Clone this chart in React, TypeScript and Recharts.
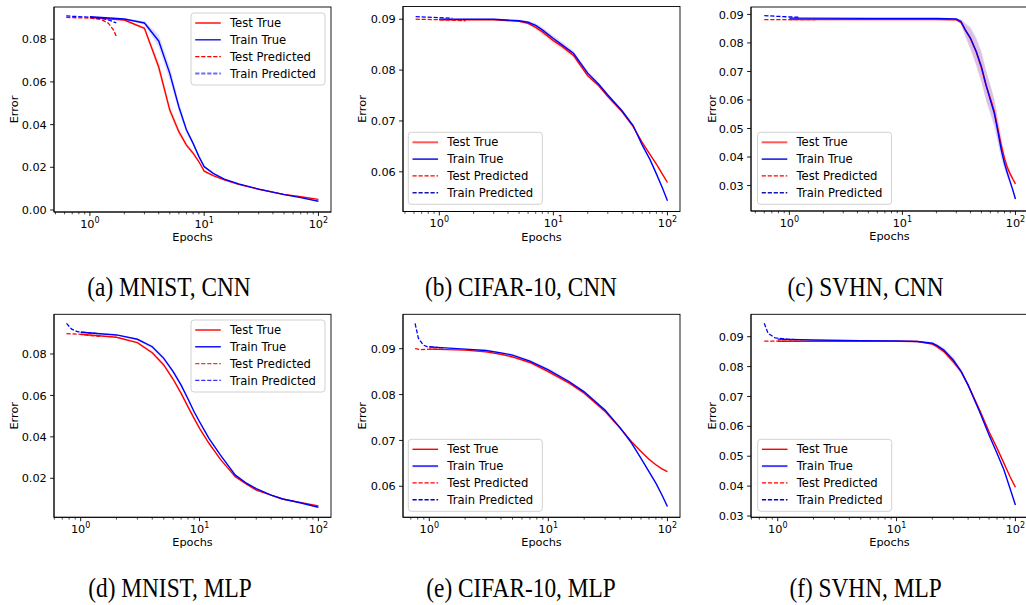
import React from "react";
import { ComposedChart, Line, Area, XAxis, YAxis } from "recharts";

const FONT = "DejaVu Sans";
const SERIF = "Liberation Serif";

// ---------------- (a) MNIST, CNN ----------------
const aEpochs = [1, 2, 3, 4, 5, 6, 7, 8, 9, 10, 12, 15, 20, 30, 50, 70, 100];
const aTestTrue = [0.0902, 0.089, 0.0851, 0.067, 0.0468, 0.0367, 0.0304, 0.0266, 0.0226, 0.0182, 0.0161, 0.0141, 0.012, 0.0097, 0.0073, 0.0062, 0.005];
const aTrainTrue = [0.0905, 0.0895, 0.0876, 0.0792, 0.064, 0.0484, 0.0375, 0.0312, 0.025, 0.0203, 0.0172, 0.0145, 0.0122, 0.0098, 0.0072, 0.0058, 0.0041];
const aTestSpread = [0.0002, 0.0003, 0.0008, 0.0025, 0.0022, 0.0015, 0.001, 0.0008, 0.0006, 0.0005, 0.0004, 0.0003, 0.0003, 0.0002, 0.0002, 0.0002, 0.0002];
const aTrainSpread = [0.0002, 0.0003, 0.0008, 0.003, 0.0032, 0.0022, 0.0014, 0.001, 0.0007, 0.0005, 0.0004, 0.0003, 0.0003, 0.0002, 0.0002, 0.0002, 0.0002];
const aTestPredEpochs = [0.62, 1.0, 1.25, 1.45, 1.6, 1.7];
const aTestPred = [0.0902, 0.0899, 0.0893, 0.0875, 0.0845, 0.0815];
const aTrainPredEpochs = [0.62, 1.0, 1.3, 1.5, 1.7];
const aTrainPred = [0.0909, 0.0903, 0.0897, 0.0888, 0.0877];
const aYTicks = [0, 0.02, 0.04, 0.06, 0.08];

// ---------------- (b) CIFAR-10, CNN ----------------
const bEpochs = [1, 3, 5, 6, 7, 8, 10, 12, 15, 20, 25, 30, 40, 50, 60, 70, 80, 90, 100];
const bTestTrue = [0.0899, 0.0899, 0.0896, 0.0892, 0.0884, 0.0875, 0.0858, 0.0846, 0.0829, 0.0789, 0.0769, 0.0748, 0.0718, 0.0689, 0.0658, 0.0635, 0.0615, 0.0596, 0.0579];
const bTrainTrue = [0.09, 0.09, 0.0897, 0.0894, 0.0888, 0.0879, 0.0862, 0.0849, 0.0833, 0.0794, 0.0772, 0.0751, 0.072, 0.0691, 0.0653, 0.0625, 0.0596, 0.0569, 0.0543];
const bTestSpread = [0.0001, 0.0001, 0.0002, 0.0003, 0.0004, 0.0005, 0.0006, 0.0006, 0.0005, 0.0004, 0.0003, 0.0003, 0.0002, 0.0002, 0.0002, 0.0002, 0.0002, 0.0002, 0.0002];
const bTrainSpread = [0.0001, 0.0001, 0.0002, 0.0003, 0.0004, 0.0005, 0.0006, 0.0006, 0.0005, 0.0004, 0.0003, 0.0003, 0.0002, 0.0002, 0.0002, 0.0002, 0.0002, 0.0002, 0.0002];
const bTestPredEpochs = [0.62, 1.0, 1.7];
const bTestPred = [0.09, 0.0899, 0.0897];
const bTrainPredEpochs = [0.62, 1.0, 1.3];
const bTrainPred = [0.0905, 0.0903, 0.0902];
const bYTicks = [0.06, 0.07, 0.08, 0.09];

// ---------------- (c) SVHN, CNN ----------------
const cEpochs = [1, 5, 10, 20, 30, 33, 36, 40, 45, 50, 55, 60, 65, 70, 75, 80, 85, 90, 95, 100];
const cTestTrue = [0.0882, 0.0882, 0.0882, 0.0882, 0.0881, 0.0872, 0.0846, 0.0815, 0.0768, 0.0712, 0.065, 0.0605, 0.056, 0.0498, 0.044, 0.0395, 0.0362, 0.034, 0.0322, 0.0306];
const cTrainTrue = [0.0887, 0.0886, 0.0886, 0.0886, 0.0884, 0.0875, 0.0846, 0.0817, 0.077, 0.0717, 0.0652, 0.06, 0.0553, 0.0488, 0.0424, 0.0377, 0.0342, 0.0312, 0.0283, 0.0253];
const cTestSpread = [0.0001, 0.0001, 0.0001, 0.0001, 0.0002, 0.0008, 0.002, 0.0035, 0.0045, 0.005, 0.005, 0.0048, 0.0045, 0.004, 0.003, 0.002, 0.0015, 0.001, 0.0008, 0.0006];
const cTrainSpread = [0.0001, 0.0001, 0.0001, 0.0001, 0.0002, 0.001, 0.0025, 0.004, 0.005, 0.0055, 0.0055, 0.0052, 0.0048, 0.0042, 0.0032, 0.0022, 0.0016, 0.0012, 0.001, 0.0008];
const cTestPredEpochs = [0.6, 1.0, 1.7];
const cTestPred = [0.0882, 0.0882, 0.0882];
const cTrainPredEpochs = [0.6, 0.8, 1.2];
const cTrainPred = [0.0896, 0.0893, 0.089];
const cYTicks = [0.03, 0.04, 0.05, 0.06, 0.07, 0.08, 0.09];

// ---------------- (d) MNIST, MLP ----------------
const dEpochs = [1, 2, 3, 4, 5, 6, 7, 8, 9, 10, 12, 15, 20, 25, 30, 40, 50, 70, 100];
const dTestTrue = [0.0895, 0.0881, 0.0855, 0.0806, 0.0747, 0.0678, 0.061, 0.0545, 0.0489, 0.0441, 0.0369, 0.0291, 0.0207, 0.0171, 0.0143, 0.0119, 0.01, 0.0084, 0.0067];
const dTrainTrue = [0.0905, 0.0892, 0.0871, 0.0835, 0.0779, 0.0715, 0.065, 0.0583, 0.0521, 0.0473, 0.0393, 0.0312, 0.0215, 0.0175, 0.015, 0.0119, 0.01, 0.0082, 0.006];
const dTestSpread = [0.0002, 0.0003, 0.0005, 0.0008, 0.001, 0.001, 0.001, 0.0009, 0.0008, 0.0007, 0.0006, 0.0005, 0.0004, 0.0003, 0.0003, 0.0002, 0.0002, 0.0002, 0.0002];
const dTrainSpread = [0.0002, 0.0003, 0.0005, 0.0008, 0.001, 0.001, 0.001, 0.0009, 0.0008, 0.0007, 0.0006, 0.0005, 0.0004, 0.0003, 0.0003, 0.0002, 0.0002, 0.0002, 0.0002];
const dTestPredEpochs = [0.76, 1.0, 1.2, 1.45];
const dTestPred = [0.0898, 0.0895, 0.0889, 0.0885];
const dTrainPredEpochs = [0.76, 0.84, 0.95, 1.2, 1.45];
const dTrainPred = [0.0948, 0.092, 0.0907, 0.0902, 0.0897];
const dYTicks = [0.02, 0.04, 0.06, 0.08];

// ---------------- (e) CIFAR-10, MLP ----------------
const eEpochs = [1, 2, 3, 4, 5, 7, 10, 15, 20, 30, 40, 50, 60, 70, 80, 90, 100];
const eTestTrue = [0.0899, 0.0897, 0.0893, 0.0888, 0.0882, 0.087, 0.085, 0.0825, 0.0803, 0.0763, 0.0727, 0.0697, 0.0676, 0.0659, 0.0647, 0.0638, 0.0632];
const eTrainTrue = [0.0904, 0.0899, 0.0896, 0.0891, 0.0886, 0.0873, 0.0854, 0.0828, 0.0806, 0.0766, 0.0728, 0.0694, 0.0661, 0.0632, 0.0607, 0.0581, 0.0556];
const eTestSpread = [0.0001, 0.0001, 0.0002, 0.0002, 0.0003, 0.0003, 0.0004, 0.0004, 0.0003, 0.0003, 0.0002, 0.0002, 0.0002, 0.0002, 0.0002, 0.0002, 0.0002];
const eTrainSpread = [0.0001, 0.0001, 0.0002, 0.0002, 0.0003, 0.0003, 0.0004, 0.0004, 0.0003, 0.0003, 0.0002, 0.0002, 0.0002, 0.0002, 0.0002, 0.0002, 0.0002];
const eTestPredEpochs = [0.76, 0.85, 1.0, 1.3];
const eTestPred = [0.09, 0.0898, 0.0899, 0.0899];
const eTrainPredEpochs = [0.76, 0.81, 0.89, 0.97, 1.3];
const eTrainPred = [0.0955, 0.0923, 0.0908, 0.0904, 0.0902];
const eYTicks = [0.06, 0.07, 0.08, 0.09];

// ---------------- (f) SVHN, MLP ----------------
const fEpochs = [1, 2, 5, 10, 15, 20, 22, 25, 30, 35, 40, 50, 60, 70, 80, 90, 100];
const fTestTrue = [0.0885, 0.0885, 0.0885, 0.0885, 0.0884, 0.0875, 0.0866, 0.085, 0.0816, 0.0783, 0.0738, 0.0655, 0.0582, 0.0527, 0.0477, 0.0432, 0.0396];
const fTrainTrue = [0.0892, 0.0889, 0.0887, 0.0886, 0.0884, 0.0878, 0.087, 0.0855, 0.0822, 0.0783, 0.0738, 0.0649, 0.0571, 0.051, 0.0455, 0.0393, 0.0337];
const fTestSpread = [0.0001, 0.0001, 0.0001, 0.0001, 0.0002, 0.0004, 0.0006, 0.0008, 0.0009, 0.0008, 0.0006, 0.0005, 0.0004, 0.0004, 0.0003, 0.0003, 0.0003];
const fTrainSpread = [0.0001, 0.0001, 0.0001, 0.0001, 0.0002, 0.0004, 0.0006, 0.0008, 0.0009, 0.0008, 0.0006, 0.0005, 0.0004, 0.0004, 0.0003, 0.0003, 0.0003];
const fTestPredEpochs = [0.77, 1.0, 1.6];
const fTestPred = [0.0885, 0.0885, 0.0885];
const fTrainPredEpochs = [0.77, 0.83, 0.95, 1.2, 1.4];
const fTrainPred = [0.0945, 0.0911, 0.0896, 0.0892, 0.089];
const fYTicks = [0.03, 0.04, 0.05, 0.06, 0.07, 0.08, 0.09];

// ---------------- shared labels / ticks ----------------
const xTickValues = [0.5, 0.6, 0.7, 0.8, 0.9, 1, 2, 3, 4, 5, 6, 7, 8, 9, 10, 20, 30, 40, 50, 60, 70, 80, 90, 100];
const legendLabels = ["Test True", "Train True", "Test Predicted", "Train Predicted"];
const captions = ["(a) MNIST, CNN", "(b) CIFAR-10, CNN", "(c) SVHN, CNN", "(d) MNIST, MLP", "(e) CIFAR-10, MLP", "(f) SVHN, MLP"];

// ---------------- helpers ----------------
const pts = (xs: number[], ys: number[]) => xs.map((x, i) => ({ x, y: ys[i] }));
const band = (xs: number[], ys: number[], sp: number[]) =>
  xs.map((x, i) => ({ x, range: [ys[i] - sp[i], ys[i] + sp[i]] }));

const RED = "#ff0000";
const BLUE = "#0000ff";

type LegendStyle = { color: string; dashed: boolean; width: number }[];

const legA: LegendStyle = [
  { color: RED, dashed: false, width: 1.4 },
  { color: "#1414e6", dashed: false, width: 1.4 },
  { color: RED, dashed: true, width: 1.4 },
  { color: "#6a6aff", dashed: true, width: 2 },
];
const legB: LegendStyle = [
  { color: "#ff5a5a", dashed: false, width: 2 },
  { color: "#0000e0", dashed: false, width: 1.4 },
  { color: RED, dashed: true, width: 1.4 },
  { color: "#1515b0", dashed: true, width: 1.4 },
];
const legD: LegendStyle = [
  { color: RED, dashed: false, width: 1.4 },
  { color: BLUE, dashed: false, width: 1.4 },
  { color: "#ff3030", dashed: true, width: 1.4 },
  { color: "#3535ff", dashed: true, width: 1.4 },
];
const legE: LegendStyle = [
  { color: RED, dashed: false, width: 1.4 },
  { color: "#4545ff", dashed: false, width: 2 },
  { color: RED, dashed: true, width: 1.4 },
  { color: "#0000cc", dashed: true, width: 1.4 },
];

const lg = (v: number) => Math.pow(10, v);

const panels = [
  {
    id: "a", left: 0, top: 0, mTop: 7, plotH: 205, xDomain: [lg(-0.3144), lg(2.11)], yDomain: [-0.00094, 0.0951],
    yTicks: aYTicks, epochs: aEpochs, test: aTestTrue, train: aTrainTrue, testSp: aTestSpread, trainSp: aTrainSpread,
    tpx: aTestPredEpochs, tpy: aTestPred, rpx: aTrainPredEpochs, rpy: aTrainPred,
    yLabelX: 18, legend: { x: 191, y: 13 }, leg: legA, caption: captions[0], capX: 169, capY: 296,
  },
  {
    id: "b", left: 349, top: 0, mTop: 6.5, plotH: 205, xDomain: [lg(-0.3184), lg(2.11)], yDomain: [0.0522, 0.0925],
    yTicks: bYTicks, epochs: bEpochs, test: bTestTrue, train: bTrainTrue, testSp: bTestSpread, trainSp: bTrainSpread,
    tpx: bTestPredEpochs, tpy: bTestPred, rpx: bTrainPredEpochs, rpy: bTrainPred,
    yLabelX: 366, legend: { x: 408.3, y: 132.3 }, leg: legB, caption: captions[1], capX: 521, capY: 296,
  },
  {
    id: "c", left: 697, top: 0, mTop: 7, plotH: 204, xDomain: [lg(-0.3394), lg(2.111)], yDomain: [0.02107, 0.0926],
    yTicks: cYTicks, epochs: cEpochs, test: cTestTrue, train: cTrainTrue, testSp: cTestSpread, trainSp: cTrainSpread,
    tpx: cTestPredEpochs, tpy: cTestPred, rpx: cTrainPredEpochs, rpy: cTrainPred,
    yLabelX: 715.5, legend: { x: 757.5, y: 132.3 }, leg: legB, caption: captions[2], capX: 865.5, capY: 296,
  },
  {
    id: "d", left: 0, top: 300, mTop: 14.3, plotH: 203, xDomain: [lg(-0.2244), lg(2.106)], yDomain: [0.00117, 0.09916],
    yTicks: dYTicks, epochs: dEpochs, test: dTestTrue, train: dTrainTrue, testSp: dTestSpread, trainSp: dTrainSpread,
    tpx: dTestPredEpochs, tpy: dTestPred, rpx: dTrainPredEpochs, rpy: dTrainPred,
    yLabelX: 18, legend: { x: 191, y: 320 }, leg: legD, caption: captions[3], capX: 170, capY: 597,
  },
  {
    id: "e", left: 349, top: 300, mTop: 14.3, plotH: 203, xDomain: [lg(-0.2206), lg(2.1057)], yDomain: [0.05324, 0.0975],
    yTicks: eYTicks, epochs: eEpochs, test: eTestTrue, train: eTrainTrue, testSp: eTestSpread, trainSp: eTrainSpread,
    tpx: eTestPredEpochs, tpy: eTestPred, rpx: eTrainPredEpochs, rpy: eTrainPred,
    yLabelX: 366, legend: { x: 408.3, y: 439.3 }, leg: legE, caption: captions[4], capX: 521, capY: 597,
  },
  {
    id: "f", left: 697, top: 300, mTop: 14.3, plotH: 203, xDomain: [lg(-0.225), lg(2.106)], yDomain: [0.02956, 0.0975],
    yTicks: fYTicks, epochs: fEpochs, test: fTestTrue, train: fTrainTrue, testSp: fTestSpread, trainSp: fTrainSpread,
    tpx: fTestPredEpochs, tpy: fTestPred, rpx: fTrainPredEpochs, rpy: fTrainPred,
    yLabelX: 715.5, legend: { x: 757.7, y: 439.3 }, leg: legE, caption: captions[5], capX: 865.5, capY: 597,
  },
];

const CW = 342;
const CH = 250;
const YW = 54;
const PW = 277;

const isMajor = (v: number) => Math.abs(Math.log10(v) - Math.round(Math.log10(v))) < 1e-9;

const XTick = (props: any) => {
  const { x, y, payload } = props;
  const v = payload.value as number;
  const major = isMajor(v);
  const exp = Math.round(Math.log10(v));
  return (
    <g>
      <line x1={x} x2={x} y1={y} y2={y + (major ? 3.9 : 2.3)} stroke="#000" strokeWidth={major ? 0.9 : 0.7} />
      {major && (
        <text x={x} y={y + 15.5} textAnchor="middle" fontSize={11.3} fontFamily={FONT} fill="#000">
          10
          <tspan dy={-4.6} fontSize={8}>
            {exp}
          </tspan>
        </text>
      )}
    </g>
  );
};

const YTick = (props: any) => {
  const { x, y, payload } = props;
  const v = payload.value as number;
  return (
    <g>
      <line x1={x - 3.9} x2={x} y1={y} y2={y} stroke="#000" strokeWidth={0.9} />
      <text x={x - 7.2} y={y + 4.1} textAnchor="end" fontSize={11.3} fontFamily={FONT} fill="#000">
        {v.toFixed(2)}
      </text>
    </g>
  );
};

function Panel({ p }: { p: any }) {
  const xTicks = xTickValues.filter((t) => t >= p.xDomain[0] && t <= p.xDomain[1]);
  const axisLine = { stroke: "#000", strokeWidth: 0.9 };
  return (
    <div style={{ position: "absolute", left: p.left, top: p.top, width: CW, height: CH }}>
      <ComposedChart width={CW} height={CH} margin={{ top: p.mTop, right: CW - YW - PW, bottom: 0, left: 0 }}>
        <XAxis
          dataKey="x"
          type="number"
          scale="log"
          domain={p.xDomain}
          allowDataOverflow
          ticks={xTicks}
          interval={0}
          tick={XTick}
          tickSize={0}
          tickMargin={0}
          tickLine={false}
          axisLine={axisLine}
          height={CH - p.mTop - p.plotH}
        />
        <YAxis
          type="number"
          domain={p.yDomain}
          allowDataOverflow
          ticks={p.yTicks}
          interval={0}
          tick={YTick}
          tickSize={0}
          tickMargin={0}
          tickLine={false}
          axisLine={axisLine}
          width={YW}
        />
        <Area
          data={band(p.epochs, p.test, p.testSp)}
          dataKey="range"
          type="linear"
          stroke="none"
          fill={RED}
          fillOpacity={0.13}
          dot={false}
          activeDot={false}
          isAnimationActive={false}
        />
        <Area
          data={band(p.epochs, p.train, p.trainSp)}
          dataKey="range"
          type="linear"
          stroke="none"
          fill={BLUE}
          fillOpacity={0.13}
          dot={false}
          activeDot={false}
          isAnimationActive={false}
        />
        <Line data={pts(p.epochs, p.test)} dataKey="y" type="linear" stroke={RED} strokeWidth={1.4} dot={false} activeDot={false} isAnimationActive={false} />
        <Line data={pts(p.epochs, p.train)} dataKey="y" type="linear" stroke={BLUE} strokeWidth={1.4} dot={false} activeDot={false} isAnimationActive={false} />
        <Line data={pts(p.tpx, p.tpy)} dataKey="y" type="linear" stroke={RED} strokeWidth={1.3} strokeDasharray="4.2 1.8" dot={false} activeDot={false} isAnimationActive={false} />
        <Line data={pts(p.rpx, p.rpy)} dataKey="y" type="linear" stroke={BLUE} strokeWidth={1.3} strokeDasharray="4.2 1.8" dot={false} activeDot={false} isAnimationActive={false} />
      </ComposedChart>
    </div>
  );
}

const rowOffsets = [10, 26.8, 43.6, 60.4];

function Overlay() {
  return (
    <svg width={1026} height={605} style={{ position: "absolute", left: 0, top: 0, pointerEvents: "none" }}>
      {panels.map((p) => {
        const plotLeft = p.left + YW;
        const plotTop = p.top + p.mTop;
        const lx = p.legend.x;
        const ly = p.legend.y;
        return (
          <g key={p.id}>
            <rect x={plotLeft} y={plotTop} width={PW} height={p.plotH} fill="none" stroke="#000" strokeWidth={0.9} />
            <text
              transform={`translate(${p.yLabelX},${plotTop + p.plotH / 2}) rotate(-90)`}
              textAnchor="middle"
              fontSize={11.3}
              fontFamily={FONT}
              fill="#000"
            >
              Error
            </text>
            <text x={plotLeft + PW / 2} y={plotTop + p.plotH + 29} textAnchor="middle" fontSize={11.3} fontFamily={FONT} fill="#000">
              Epochs
            </text>
            <rect x={lx} y={ly} width={134} height={72} rx={3} ry={3} fill="#fff" fillOpacity={0.8} stroke="#cccccc" strokeWidth={0.9} />
            {legendLabels.map((lab, i) => {
              const s = p.leg[i];
              const cy = ly + rowOffsets[i];
              return (
                <g key={lab}>
                  <line
                    x1={lx + 4.2}
                    x2={lx + 29.8}
                    y1={cy}
                    y2={cy}
                    stroke={s.color}
                    strokeWidth={s.width}
                    strokeDasharray={s.dashed ? "4.2 1.8" : undefined}
                  />
                  <text x={lx + 39} y={cy + 4.1} fontSize={11.6} fontFamily={FONT} fill="#000">
                    {lab}
                  </text>
                </g>
              );
            })}
            <g transform={`translate(${p.capX},${p.capY}) scale(0.88,1)`}>
              <text x={0} y={0} textAnchor="middle" fontSize={26.5} fontFamily={SERIF} fill="#000">
                {p.caption}
              </text>
            </g>
          </g>
        );
      })}
    </svg>
  );
}

export default function App() {
  return (
    <div
      style={{
        position: "absolute",
        left: 0,
        top: 0,
        width: 1026,
        height: 605,
        overflow: "hidden",
        background: "#fff",
      }}
    >
      {panels.map((p) => (
        <Panel key={p.id} p={p} />
      ))}
      <Overlay />
    </div>
  );
}
